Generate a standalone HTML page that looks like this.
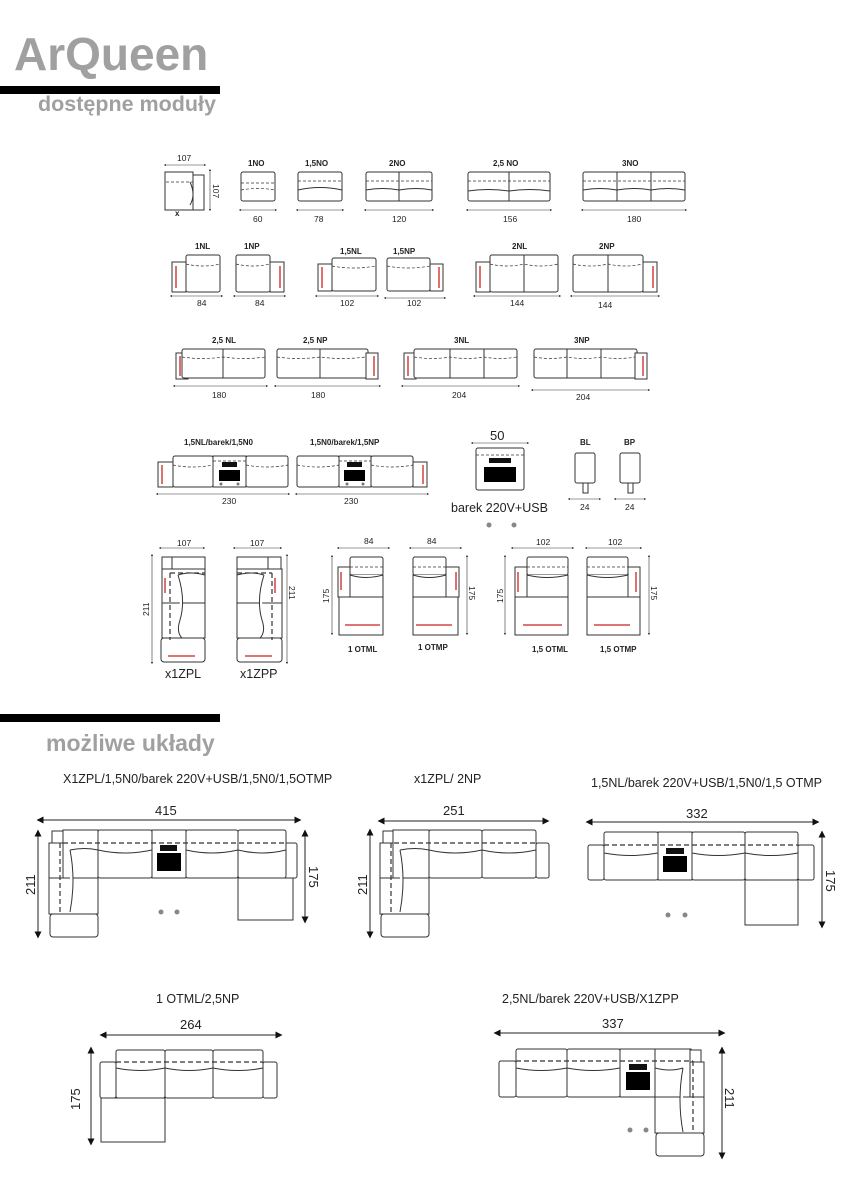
<!DOCTYPE html>
<html><head><meta charset="utf-8"><style>
body{margin:0;background:#fff}
svg{display:block}
text{font-family:"Liberation Sans",sans-serif;fill:#222}
.b{font-weight:bold;font-size:8px}
.d{font-size:8.5px}
.l{font-size:12.5px}
.s{fill:#fff;stroke:#333;stroke-width:1}
.ds{fill:none;stroke:#333;stroke-width:.7;stroke-dasharray:3 2}
.dl{fill:none;stroke:#333;stroke-width:1.2;stroke-dasharray:5 3}
.r{stroke:#c22;stroke-width:1.3}
.dim{stroke:#333;stroke-width:.6;marker-start:url(#a);marker-end:url(#a)}
.big{stroke:#222;stroke-width:1;marker-start:url(#A);marker-end:url(#A)}
</style></head><body>
<svg width="848" height="1200" viewBox="0 0 848 1200" xmlns="http://www.w3.org/2000/svg">
<defs>
<marker id="a" viewBox="0 0 6 6" refX="3" refY="3" markerWidth="4" markerHeight="4" orient="auto-start-reverse"><path d="M0,0L6,3L0,6z" fill="#333"/></marker>
<marker id="A" viewBox="0 0 6 6" refX="3" refY="3" markerWidth="7" markerHeight="7" orient="auto-start-reverse"><path d="M0,0L6,3L0,6z" fill="#111"/></marker>
</defs>
<text x="14" y="70" style="font-size:46px;font-weight:bold;fill:#a0a0a0">ArQueen</text>
<rect x="0" y="86" width="220" height="8" fill="#000"/>
<text x="38" y="111" style="font-size:21.5px;font-weight:bold;fill:#a0a0a0">dostępne moduły</text>

<!-- row1 -->
<line class="dim" x1="165" y1="165" x2="205" y2="165"/><text class="d" x="177" y="161">107</text>
<rect class="s" x="165" y="172" width="28" height="38"/><rect class="s" x="193" y="175" width="11" height="35"/>
<path class="ds" d="M166 182H193"/><path d="M190 182 Q196 195 190 205" class="s" fill="none"/>
<line class="dim" x1="210" y1="170" x2="210" y2="210"/><text class="d" transform="translate(213,184) rotate(90)">107</text>
<text class="b" x="175" y="216">x</text>

<g>
<text class="b" x="248" y="166">1NO</text><rect class="s" x="241" y="172" width="34" height="29" rx="2"/><path class="ds" d="M241 183H275M241 190Q258 187 275 190"/>
<line class="dim" x1="240" y1="210" x2="276" y2="210"/><text class="d" x="253" y="222">60</text>
<text class="b" x="305" y="166">1,5NO</text><rect class="s" x="298" y="172" width="44" height="29" rx="2"/><path class="ds" d="M298 181H342"/><path class="s" fill="none" d="M298 190Q320 185 342 190"/>
<line class="dim" x1="297" y1="210" x2="343" y2="210"/><text class="d" x="314" y="222">78</text>
<text class="b" x="389" y="166">2NO</text><rect class="s" x="366" y="172" width="66" height="29" rx="2"/><line stroke="#333" x1="399" y1="172" x2="399" y2="201"/><path class="ds" d="M366 181H432"/><path class="s" fill="none" d="M366 190Q383 187 399 190Q416 187 432 190"/>
<line class="dim" x1="365" y1="210" x2="433" y2="210"/><text class="d" x="392" y="222">120</text>
<text class="b" x="493" y="166">2,5 NO</text><rect class="s" x="468" y="172" width="82" height="29" rx="2"/><line stroke="#333" x1="509" y1="172" x2="509" y2="201"/><path class="ds" d="M468 181H550"/><path class="s" fill="none" d="M468 191Q488 188 509 191Q530 188 550 191"/>
<line class="dim" x1="467" y1="210" x2="551" y2="210"/><text class="d" x="503" y="222">156</text>
<text class="b" x="622" y="166">3NO</text><rect class="s" x="583" y="172" width="102" height="29" rx="2"/><line stroke="#333" x1="617" y1="172" x2="617" y2="201"/><line stroke="#333" x1="651" y1="172" x2="651" y2="201"/><path class="ds" d="M583 181H685"/><path class="s" fill="none" d="M583 190Q600 187 617 190Q634 187 651 190Q668 187 685 190"/>
<line class="dim" x1="582" y1="210" x2="686" y2="210"/><text class="d" x="627" y="222">180</text>
</g>

<!-- row2 -->
<g>
<text class="b" x="195" y="249">1NL</text><rect class="s" x="172" y="262" width="14" height="30"/><line class="r" x1="176" y1="266" x2="176" y2="288"/><rect class="s" x="186" y="255" width="34" height="37" rx="2"/><path class="ds" d="M186 264Q203 268 220 264"/>
<line class="dim" x1="171" y1="296" x2="222" y2="296"/><text class="d" x="197" y="306">84</text>
<text class="b" x="244" y="249">1NP</text><rect class="s" x="236" y="255" width="34" height="37" rx="2"/><rect class="s" x="270" y="262" width="14" height="30"/><line class="r" x1="280" y1="266" x2="280" y2="288"/><path class="ds" d="M236 264Q253 268 270 264"/>
<line class="dim" x1="234" y1="296" x2="285" y2="296"/><text class="d" x="255" y="306">84</text>
<text class="b" x="340" y="254">1,5NL</text><rect class="s" x="318" y="264" width="14" height="27"/><line class="r" x1="322" y1="267" x2="322" y2="288"/><rect class="s" x="332" y="258" width="44" height="33" rx="2"/><path class="ds" d="M332 266Q354 270 376 266"/>
<line class="dim" x1="316" y1="296" x2="378" y2="296"/><text class="d" x="340" y="306">102</text>
<text class="b" x="393" y="254">1,5NP</text><rect class="s" x="387" y="258" width="43" height="33" rx="2"/><rect class="s" x="430" y="264" width="13" height="27"/><line class="r" x1="439" y1="267" x2="439" y2="288"/><path class="ds" d="M387 266Q408 270 430 266"/>
<line class="dim" x1="385" y1="298" x2="445" y2="298"/><text class="d" x="407" y="306">102</text>
<text class="b" x="512" y="249">2NL</text><rect class="s" x="476" y="262" width="14" height="30"/><line class="r" x1="480" y1="266" x2="480" y2="288"/><rect class="s" x="490" y="255" width="68" height="37" rx="2"/><line stroke="#333" x1="524" y1="255" x2="524" y2="292"/><path class="ds" d="M490 264Q507 268 524 264Q541 268 558 264"/>
<line class="dim" x1="474" y1="296" x2="560" y2="296"/><text class="d" x="510" y="306">144</text>
<text class="b" x="599" y="249">2NP</text><rect class="s" x="573" y="255" width="70" height="37" rx="2"/><line stroke="#333" x1="608" y1="255" x2="608" y2="292"/><rect class="s" x="643" y="262" width="14" height="30"/><line class="r" x1="653" y1="266" x2="653" y2="288"/><path class="ds" d="M573 264Q590 268 608 264Q625 268 643 264"/>
<line class="dim" x1="571" y1="296" x2="659" y2="296"/><text class="d" x="598" y="308">144</text>
</g>

<!-- row3 -->
<g>
<text class="b" x="212" y="343">2,5 NL</text><rect class="s" x="176" y="353" width="12" height="26"/><line class="r" x1="180" y1="356" x2="180" y2="376"/><rect class="s" x="182" y="349" width="83" height="29" rx="2"/><line stroke="#333" x1="223" y1="349" x2="223" y2="378"/><path class="ds" d="M182 357Q202 360 223 357Q244 360 265 357"/>
<line class="dim" x1="174" y1="386" x2="267" y2="386"/><text class="d" x="212" y="398">180</text>
<text class="b" x="303" y="343">2,5 NP</text><rect class="s" x="277" y="349" width="91" height="29" rx="2"/><line stroke="#333" x1="320" y1="349" x2="320" y2="378"/><rect class="s" x="366" y="353" width="12" height="26"/><line class="r" x1="374" y1="356" x2="374" y2="376"/><path class="ds" d="M277 357Q298 360 320 357Q343 360 366 357"/>
<line class="dim" x1="275" y1="386" x2="380" y2="386"/><text class="d" x="311" y="398">180</text>
<text class="b" x="454" y="343">3NL</text><rect class="s" x="404" y="353" width="12" height="26"/><line class="r" x1="408" y1="356" x2="408" y2="376"/><rect class="s" x="414" y="349" width="103" height="29" rx="2"/><line stroke="#333" x1="450" y1="349" x2="450" y2="378"/><line stroke="#333" x1="484" y1="349" x2="484" y2="378"/><path class="ds" d="M414 357Q432 360 450 357Q467 360 484 357Q500 360 517 357"/>
<line class="dim" x1="402" y1="386" x2="519" y2="386"/><text class="d" x="452" y="398">204</text>
<text class="b" x="574" y="343">3NP</text><rect class="s" x="534" y="349" width="103" height="29" rx="2"/><line stroke="#333" x1="567" y1="349" x2="567" y2="378"/><line stroke="#333" x1="601" y1="349" x2="601" y2="378"/><rect class="s" x="635" y="353" width="12" height="26"/><line class="r" x1="643" y1="356" x2="643" y2="376"/><path class="ds" d="M534 357Q550 360 567 357Q584 360 601 357Q618 360 635 357"/>
<line class="dim" x1="532" y1="390" x2="649" y2="390"/><text class="d" x="576" y="400">204</text>
</g>

<!-- row4 -->
<g>
<text class="b" x="184" y="445">1,5NL/barek/1,5N0</text>
<rect class="s" x="158" y="462" width="15" height="25"/><line class="r" x1="162" y1="465" x2="162" y2="484"/>
<rect class="s" x="173" y="456" width="40" height="31" rx="2"/><rect class="s" x="213" y="456" width="33" height="31"/><rect class="s" x="246" y="456" width="42" height="31" rx="2"/>
<path class="ds" d="M173 465Q193 469 213 465M246 465Q267 469 288 465M213 461H246"/>
<rect x="222" y="462" width="15" height="5" fill="#111"/><rect x="219" y="470" width="21" height="11" fill="#000"/><circle cx="221" cy="484" r="1.5" fill="#777"/><circle cx="238" cy="484" r="1.5" fill="#777"/>
<line class="dim" x1="157" y1="494" x2="289" y2="494"/><text class="d" x="222" y="504">230</text>
<text class="b" x="310" y="445">1,5N0/barek/1,5NP</text>
<rect class="s" x="297" y="456" width="42" height="31" rx="2"/><rect class="s" x="339" y="456" width="32" height="31"/><rect class="s" x="371" y="456" width="42" height="31" rx="2"/>
<rect class="s" x="413" y="462" width="14" height="25"/><line class="r" x1="423" y1="465" x2="423" y2="484"/>
<path class="ds" d="M297 465Q318 469 339 465M371 465Q392 469 413 465M339 461H371"/>
<rect x="347" y="462" width="15" height="5" fill="#111"/><rect x="344" y="470" width="21" height="11" fill="#000"/><circle cx="347" cy="484" r="1.5" fill="#777"/><circle cx="363" cy="484" r="1.5" fill="#777"/>
<line class="dim" x1="296" y1="494" x2="428" y2="494"/><text class="d" x="344" y="504">230</text>
<text x="490" y="440" style="font-size:13px">50</text><line class="dim" x1="472" y1="443" x2="528" y2="443"/>
<rect class="s" x="476" y="448" width="48" height="42" rx="2"/><path class="ds" d="M476 455H524"/><rect x="489" y="458" width="22" height="5" fill="#111"/><rect x="484" y="467" width="32" height="15" fill="#000"/>
<text x="451" y="512" style="font-size:12.5px">barek 220V+USB</text>
<circle cx="489" cy="525" r="2.5" fill="#888"/><circle cx="514" cy="525" r="2.5" fill="#888"/>
<text class="b" x="580" y="445">BL</text><rect class="s" x="575" y="453" width="20" height="30" rx="2"/><rect class="s" x="583" y="483" width="5" height="10"/>
<line class="dim" x1="569" y1="499" x2="600" y2="499"/><text class="d" x="580" y="510">24</text>
<text class="b" x="624" y="445">BP</text><rect class="s" x="620" y="453" width="20" height="30" rx="2"/><rect class="s" x="628" y="483" width="5" height="10"/>
<line class="dim" x1="615" y1="499" x2="645" y2="499"/><text class="d" x="625" y="510">24</text>
</g>

<!-- row5 -->
<g>
<line class="dim" x1="160" y1="548" x2="204" y2="548"/><text class="d" x="177" y="546">107</text>
<rect class="s" x="162" y="557" width="13" height="15"/><rect class="s" x="172" y="557" width="33" height="15"/>
<rect class="s" x="162" y="569" width="43" height="34"/><rect class="s" x="162" y="603" width="43" height="35"/><rect class="s" x="161" y="638" width="44" height="24" rx="3"/>
<path class="dl" d="M170 573H205M170 573V640"/><path class="s" fill="none" d="M178 575Q190 571 205 575M178 575Q186 600 180 620Q176 632 182 638"/>
<line class="r" x1="165" y1="578" x2="165" y2="593"/><line class="r" x1="168" y1="656" x2="195" y2="656"/>
<line class="dim" x1="152" y1="555" x2="152" y2="663"/><text class="d" transform="translate(149,616) rotate(-90)">211</text>
<text x="165" y="678" style="font-size:12.5px">x1ZPL</text>
<line class="dim" x1="234" y1="548" x2="281" y2="548"/><text class="d" x="250" y="546">107</text>
<rect class="s" x="237" y="557" width="33" height="15"/><rect class="s" x="268" y="557" width="13" height="15"/>
<rect class="s" x="237" y="569" width="45" height="34"/><rect class="s" x="237" y="603" width="45" height="35"/><rect class="s" x="237" y="638" width="45" height="24" rx="3"/>
<path class="dl" d="M237 573H272M272 573V640"/><path class="s" fill="none" d="M237 575Q252 571 264 575M264 575Q256 600 262 620Q266 632 260 638"/>
<line class="r" x1="275" y1="578" x2="275" y2="593"/><line class="r" x1="245" y1="656" x2="272" y2="656"/>
<line class="dim" x1="287" y1="555" x2="287" y2="663"/><text class="d" transform="translate(289,586) rotate(90)">211</text>
<text x="240" y="678" style="font-size:12.5px">x1ZPP</text>

<line class="dim" x1="338" y1="548" x2="389" y2="548"/><text class="d" x="364" y="544">84</text>
<rect class="s" x="338" y="567" width="12" height="30"/><line class="r" x1="341" y1="572" x2="341" y2="590"/>
<rect class="s" x="350" y="557" width="33" height="18" rx="2"/><rect class="s" x="339" y="597" width="44" height="38"/><rect class="s" x="350" y="575" width="33" height="22" fill="none"/>
<path class="ds" d="M350 567H383M350 597H383"/><path class="s" fill="none" d="M350 575Q366 580 383 575"/><line class="r" x1="345" y1="625" x2="380" y2="625"/>
<line class="dim" x1="332" y1="556" x2="332" y2="634"/><text class="d" transform="translate(329,603) rotate(-90)">175</text>
<text class="b" x="348" y="652">1 OTML</text>
<line class="dim" x1="410" y1="548" x2="461" y2="548"/><text class="d" x="427" y="544">84</text>
<rect class="s" x="413" y="557" width="33" height="18" rx="2"/><rect class="s" x="446" y="567" width="13" height="30"/><line class="r" x1="456" y1="572" x2="456" y2="590"/>
<rect class="s" x="413" y="597" width="45" height="38"/><rect class="s" x="413" y="575" width="33" height="22" fill="none"/>
<path class="ds" d="M413 567H446M413 597H446"/><path class="s" fill="none" d="M413 575Q429 580 446 575"/><line class="r" x1="416" y1="625" x2="452" y2="625"/>
<line class="dim" x1="467" y1="556" x2="467" y2="634"/><text class="d" transform="translate(469,586) rotate(90)">175</text>
<text class="b" x="418" y="650">1 OTMP</text>

<line class="dim" x1="512" y1="548" x2="573" y2="548"/><text class="d" x="536" y="545">102</text>
<rect class="s" x="515" y="567" width="12" height="30"/><line class="r" x1="518" y1="572" x2="518" y2="592"/>
<rect class="s" x="527" y="557" width="41" height="18" rx="2"/><rect class="s" x="515" y="597" width="53" height="38"/><rect class="s" x="527" y="575" width="41" height="22" fill="none"/>
<path class="ds" d="M527 567H568M527 597H568"/><path class="s" fill="none" d="M527 575Q547 580 568 575"/><line class="r" x1="523" y1="625" x2="562" y2="625"/>
<line class="dim" x1="505" y1="556" x2="505" y2="634"/><text class="d" transform="translate(503,603) rotate(-90)">175</text>
<text class="b" x="532" y="652">1,5 OTML</text>
<line class="dim" x1="586" y1="548" x2="641" y2="548"/><text class="d" x="608" y="545">102</text>
<rect class="s" x="587" y="557" width="41" height="18" rx="2"/><rect class="s" x="628" y="567" width="12" height="30"/><line class="r" x1="636" y1="572" x2="636" y2="592"/>
<rect class="s" x="587" y="597" width="53" height="38"/><rect class="s" x="587" y="575" width="41" height="22" fill="none"/>
<path class="ds" d="M587 567H628M587 597H628"/><path class="s" fill="none" d="M587 575Q607 580 628 575"/><line class="r" x1="594" y1="625" x2="630" y2="625"/>
<line class="dim" x1="649" y1="556" x2="649" y2="634"/><text class="d" transform="translate(651,586) rotate(90)">175</text>
<text class="b" x="600" y="652">1,5 OTMP</text>
</g>

<rect x="0" y="714" width="220" height="8" fill="#000"/>
<text x="46" y="751" style="font-size:23px;font-weight:bold;fill:#a0a0a0">możliwe układy</text>

<!-- L1 -->
<g>
<text class="l" x="63" y="783">X1ZPL/1,5N0/barek 220V+USB/1,5N0/1,5OTMP</text>
<text x="155" y="815" style="font-size:13px">415</text><line class="big" x1="40" y1="820" x2="298" y2="820"/>
<rect class="s" x="52" y="831" width="11" height="12"/>
<rect class="s" x="49" y="843" width="14" height="35"/><rect class="s" x="49" y="878" width="49" height="36"/><rect class="s" x="50" y="914" width="48" height="23" rx="3"/>
<rect class="s" x="63" y="830" width="35" height="48"/><rect class="s" x="98" y="830" width="54" height="48" rx="2"/><rect class="s" x="152" y="830" width="34" height="48"/><rect class="s" x="186" y="830" width="52" height="48" rx="2"/>
<rect class="s" x="284" y="843" width="13" height="35" rx="2"/><rect class="s" x="238" y="878" width="55" height="42"/><rect class="s" x="238" y="830" width="48" height="48" rx="2"/>
<path class="dl" d="M63 843H286M60 843V912"/><path class="ds" d="M238 878H286"/>
<path class="s" fill="none" d="M70 850Q85 847 98 850M70 850Q76 880 70 912M98 850Q125 856 152 850M186 850Q212 856 238 850M238 850Q262 856 286 850"/>
<rect x="160" y="845" width="17" height="6" fill="#111"/><rect x="157" y="853" width="24" height="18" fill="#000"/>
<line class="big" x1="38" y1="833" x2="38" y2="935"/><text transform="translate(35,895) rotate(-90)" style="font-size:13px">211</text>
<line class="big" x1="305" y1="833" x2="305" y2="920"/><text transform="translate(309,866) rotate(90)" style="font-size:13px">175</text>
<circle cx="161" cy="912" r="2.5" fill="#888"/><circle cx="177" cy="912" r="2.5" fill="#888"/>
</g>

<!-- L2 -->
<g>
<text class="l" x="414" y="783">x1ZPL/ 2NP</text>
<text x="443" y="815" style="font-size:13px">251</text><line class="big" x1="381" y1="821" x2="546" y2="821"/>
<rect class="s" x="383" y="831" width="11" height="12"/>
<rect class="s" x="380" y="843" width="14" height="35"/><rect class="s" x="380" y="878" width="49" height="36"/><rect class="s" x="381" y="914" width="48" height="23" rx="3"/>
<rect class="s" x="393" y="830" width="36" height="48"/><rect class="s" x="429" y="830" width="53" height="48" rx="2"/><rect class="s" x="482" y="830" width="54" height="48" rx="2"/><rect class="s" x="536" y="843" width="13" height="35" rx="2"/>
<path class="dl" d="M394 843H536M391 843V912"/>
<path class="s" fill="none" d="M400 850Q415 847 429 850M400 850Q406 880 400 912M429 850Q455 856 482 850M482 850Q509 856 536 850"/>
<line class="big" x1="370" y1="832" x2="370" y2="935"/><text transform="translate(367,895) rotate(-90)" style="font-size:13px">211</text>
</g>

<!-- L3 -->
<g>
<text class="l" x="591" y="787">1,5NL/barek 220V+USB/1,5N0/1,5 OTMP</text>
<text x="686" y="818" style="font-size:13px">332</text><line class="big" x1="589" y1="822" x2="816" y2="822"/>
<rect class="s" x="588" y="845" width="16" height="35" rx="2"/>
<rect class="s" x="604" y="832" width="54" height="48" rx="2"/><rect class="s" x="658" y="832" width="34" height="48"/><rect class="s" x="692" y="832" width="53" height="48" rx="2"/>
<rect class="s" x="798" y="845" width="16" height="35" rx="2"/><rect class="s" x="745" y="880" width="53" height="45"/><rect class="s" x="745" y="832" width="53" height="48" rx="2"/>
<path class="dl" d="M604 845H798"/><path class="ds" d="M745 880H798"/>
<path class="s" fill="none" d="M604 853Q631 858 658 853M692 853Q718 858 745 853M745 853Q771 858 798 853"/>
<rect x="666" y="848" width="18" height="6" fill="#111"/><rect x="663" y="856" width="24" height="16" fill="#000"/>
<line class="big" x1="822" y1="834" x2="822" y2="925"/><text transform="translate(826,870) rotate(90)" style="font-size:13px">175</text>
<circle cx="668" cy="915" r="2.5" fill="#888"/><circle cx="685" cy="915" r="2.5" fill="#888"/>
</g>

<!-- L4 -->
<g>
<text class="l" x="156" y="1003">1 OTML/2,5NP</text>
<text x="180" y="1029" style="font-size:13px">264</text><line class="big" x1="103" y1="1035" x2="279" y2="1035"/>
<rect class="s" x="100" y="1062" width="16" height="36" rx="2"/><rect class="s" x="101" y="1098" width="64" height="44"/>
<rect class="s" x="116" y="1050" width="49" height="48" rx="2"/><rect class="s" x="165" y="1050" width="48" height="48" rx="2"/><rect class="s" x="213" y="1050" width="50" height="48" rx="2"/><rect class="s" x="263" y="1062" width="14" height="36" rx="2"/>
<path class="dl" d="M116 1062H263"/><path class="s" fill="none" d="M116 1068Q140 1073 165 1068Q189 1073 213 1068Q238 1073 263 1068"/>
<line class="big" x1="91" y1="1050" x2="91" y2="1142"/><text transform="translate(80,1110) rotate(-90)" style="font-size:13px">175</text>
</g>

<!-- L5 -->
<g>
<text class="l" x="502" y="1003">2,5NL/barek 220V+USB/X1ZPP</text>
<text x="602" y="1028" style="font-size:13px">337</text><line class="big" x1="497" y1="1033" x2="722" y2="1033"/>
<rect class="s" x="499" y="1061" width="17" height="36" rx="2"/>
<rect class="s" x="516" y="1049" width="51" height="48" rx="2"/><rect class="s" x="567" y="1049" width="53" height="48" rx="2"/><rect class="s" x="620" y="1049" width="35" height="48"/>
<rect class="s" x="655" y="1049" width="36" height="48"/><rect class="s" x="690" y="1050" width="11" height="12"/>
<rect class="s" x="690" y="1062" width="14" height="35"/><rect class="s" x="655" y="1097" width="49" height="36"/><rect class="s" x="656" y="1133" width="48" height="23" rx="3"/>
<path class="dl" d="M516 1061H693M693 1061V1133"/>
<path class="s" fill="none" d="M516 1068Q541 1073 567 1068Q593 1073 620 1068M655 1068Q670 1072 683 1068M683 1068Q677 1100 683 1132"/>
<rect x="629" y="1064" width="18" height="6" fill="#111"/><rect x="626" y="1072" width="24" height="18" fill="#000"/>
<line class="big" x1="722" y1="1050" x2="722" y2="1156"/><text transform="translate(725,1088) rotate(90)" style="font-size:13px">211</text>
<circle cx="630" cy="1130" r="2.5" fill="#888"/><circle cx="646" cy="1130" r="2.5" fill="#888"/>
</g>
</svg>
</body></html>
